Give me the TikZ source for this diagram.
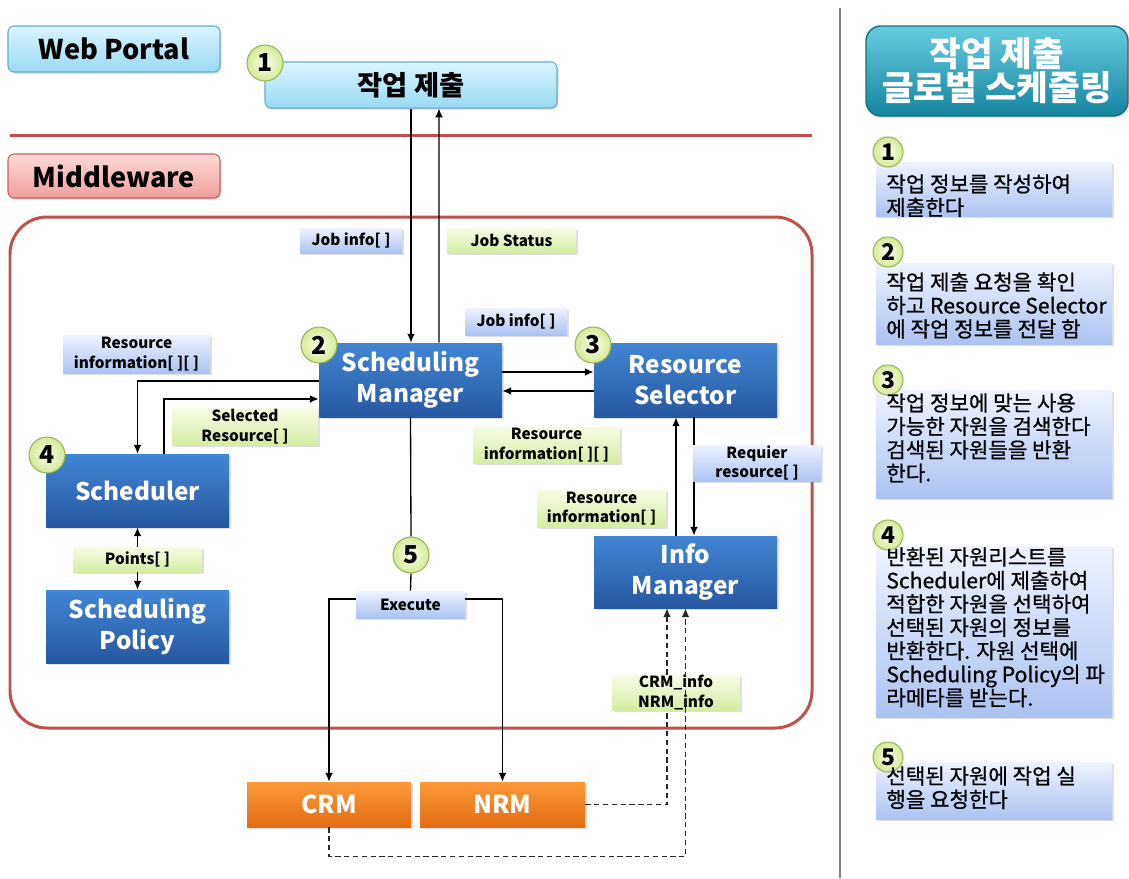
\documentclass[tikz,border=0pt]{standalone}
\usepackage{fontspec}
\setmainfont{Noto Sans CJK KR}
\newfontfamily\stepfont{Noto Sans CJK KR}[FakeBold=0.7]
\usetikzlibrary{arrows.meta,calc,shadows}
\newdimen\px
\px=0.567pt
% palette
\definecolor{blueT}{RGB}{66,134,212}
\definecolor{blueB}{RGB}{38,88,160}
\definecolor{oraT}{RGB}{250,154,56}
\definecolor{oraB}{RGB}{228,108,18}
\definecolor{lavT}{RGB}{238,243,254}
\definecolor{lavB}{RGB}{172,194,242}
\definecolor{grnT}{RGB}{247,252,228}
\definecolor{grnB}{RGB}{212,237,162}
\definecolor{cyanT}{RGB}{218,245,254}
\definecolor{cyanB}{RGB}{152,218,243}
\definecolor{cyanE}{RGB}{104,172,202}
\definecolor{pinkT}{RGB}{253,218,216}
\definecolor{pinkB}{RGB}{240,158,156}
\definecolor{pinkE}{RGB}{196,98,96}
\definecolor{redline}{RGB}{192,80,77}
\definecolor{tealT}{RGB}{104,204,224}
\definecolor{tealB}{RGB}{22,132,160}
\definecolor{tealE}{RGB}{20,108,132}
\definecolor{numIn}{RGB}{252,254,232}
\definecolor{numOut}{RGB}{212,234,152}
\definecolor{numE}{RGB}{150,182,88}
\begin{document}
\begin{tikzpicture}[x=0.567pt,y=-0.567pt,
  shadowed/.style={drop shadow={opacity=0.25,shadow xshift=0.9pt,shadow yshift=-1.1pt}},
  bluebox/.style={rectangle, minimum width=183*\px, minimum height=74*\px, inner sep=0pt,
    top color=blueT, bottom color=blueB, text=white, align=center,
    font=\fontsize{13.8}{17.6}\selectfont\bfseries, shadowed},
  orabox/.style={rectangle, minimum width=164*\px, minimum height=45*\px, inner sep=0pt,
    top color=oraT, bottom color=oraB, text=white,
    font=\fontsize{14}{16}\selectfont\bfseries, shadowed},
  lbl/.style={rectangle, inner sep=0pt, align=center,
    font=\fontsize{8.7}{11}\selectfont\bfseries, shadowed},
  lblue/.style={lbl, top color=lavT, bottom color=lavB},
  lgreen/.style={lbl, top color=grnT, bottom color=grnB},
  num/.style={circle, inner sep=0pt, minimum size=36*\px, inner color=numIn, outer color=numOut,
    draw=numE, line width=0.6pt, font=\fontsize{14}{14}\selectfont\bfseries},
  smallnum/.style={num, minimum size=30*\px, font=\fontsize{13}{13}\selectfont\bfseries},
  layerbox/.style={rectangle, rounded corners=3.5pt, inner sep=0pt, line width=0.6pt,
    font=\fontsize{15.4}{17}\selectfont\bfseries, shadowed},
  stepbox/.style={rectangle, inner sep=0pt, minimum width=236*\px, top color=lavT, bottom color=lavB, shadowed},
  steptext/.style={anchor=north west, inner sep=0pt, align=left,
    font=\stepfont\fontsize{12}{13.3}\selectfont},
  conn/.style={draw=black, line width=0.75pt},
  arr/.style={conn, -{Latex[length=5pt,width=4.4pt]}},
  dashedarr/.style={draw=black!85, line width=0.75pt, dash pattern=on 3pt off 2pt, -{Latex[length=5pt,width=4.4pt]}}
]
\fill[white] (0,0) rectangle (1129,878);
\useasboundingbox (0,0) rectangle (1129,878);

% layer separators and frames
\draw[redline, line width=1.7pt] (10,135) -- (812,135);
\draw[redline, line width=1.7pt, rounded corners=21pt] (10,217) rectangle (812,728);
\draw[black!50, line width=1.1pt] (840,8) -- (840,878);

% layer titles
\node[layerbox, draw=cyanE, top color=cyanT, bottom color=cyanB, minimum width=212*\px, minimum height=46*\px] (portal) at (114,49) {Web Portal};
\node[layerbox, draw=pinkE, top color=pinkT, bottom color=pinkB, minimum width=212*\px, minimum height=44*\px] (middle) at (114,176) {Middleware};

% web portal
\node[layerbox, draw=cyanE, top color=cyanT, bottom color=cyanB, minimum width=292*\px, minimum height=46*\px,
  font=\fontsize{15.5}{17}\selectfont\bfseries] (submit) at (411,85) {작업 제출};
\node[num] (c1) at (265,63) {1};

% middleware components
\node[bluebox] (sm) at (410.5,380) {Scheduling\\Manager};
\node[bluebox] (rs) at (685.5,380) {Resource\\Selector};
\node[bluebox, minimum height=73*\px] (sched) at (137.5,490.5) {Scheduler};
\node[bluebox, minimum height=73*\px] (policy) at (137.5,626.5) {Scheduling\\Policy};
\node[bluebox, minimum height=72*\px] (im) at (685.5,572) {Info\\Manager};
\node[num] (c2) at (319,345) {2};
\node[num] (c3) at (593,345) {3};
\node[num] (c4) at (47,455) {4};
\node[num] (c5) at (411,555) {5};

% resource managers
\node[orabox] (crm) at (329,804.5) {CRM};
\node[orabox, minimum width=165*\px] (nrm) at (502.5,804.5) {NRM};

% message flows
\draw[arr] (submit.south) -- (submit.south |- sm.north);
\draw[arr] ($(sm.north)+(28.5,0)$) -- ($(submit.south)+(28,0)$);
\draw[arr] ($(sm.east)+(0,-8)$) -- ($(rs.west)+(0,-8)$);
\draw[arr] ($(rs.west)+(0,11)$) -- ($(sm.east)+(0,11)$);
\draw[arr] ($(sm.west)+(0,1)$) -| (sched.north);
\draw[arr] ($(sched.north)+(26.5,0)$) |- ($(sm.west)+(0,19)$);
\draw[arr] ($(rs.south)+(8.5,0)$) -- ($(im.north)+(8.5,0)$);
\draw[arr] ($(im.north)+(-9.5,0)$) -- ($(rs.south)+(-9.5,0)$);
\draw[conn] (sm.south) -- (c5.north);
\draw[dashedarr] (nrm.east) -| ($(im.south)+(-18.5,0)$);

% data labels
\node[lblue, minimum width=102*\px, minimum height=25*\px] (ji1) at (351,240.5) {Job info[ ]};
\node[lgreen, minimum width=129*\px, minimum height=25*\px] (js) at (511.5,240.5) {Job Status};
\node[lblue, minimum width=102*\px, minimum height=27*\px] (ji2) at (516,321.5) {Job info[ ]};
\node[lblue, minimum width=147*\px, minimum height=38*\px] (ri1) at (136.5,354) {Resource\\information[ ][ ]};
\node[lgreen, minimum width=146*\px, minimum height=37*\px] (sel) at (245,426.5) {Selected\\Resource[ ]};
\node[lgreen, minimum width=147*\px, minimum height=36*\px] (ri2) at (546.5,445) {Resource\\information[ ][ ]};
\node[lblue, minimum width=128*\px, minimum height=36*\px] (req) at (757,463) {Requier\\resource[ ]};
\node[lgreen, minimum width=129*\px, minimum height=37*\px] (ri3) at (601.5,508.5) {Resource\\information[ ]};
\node[lgreen, minimum width=129*\px, minimum height=25*\px] (pts) at (137.5,559.5) {Points[ ]};
\node[lblue, minimum width=109*\px, minimum height=27*\px] (exe) at (410.5,604.5) {Execute};
\node[lgreen, minimum width=128*\px, minimum height=35*\px] (rmi) at (676,692.5) {CRM\_info\\NRM\_info};

\draw[arr] (pts.north) -- (sched.south);
\draw[arr] (pts.south) -- (policy.north);
\draw[conn] (c5.south) -- (exe.north);
\draw[arr] ($(exe.west)+(0,-5.5)$) -| (crm.north);
\draw[arr] ($(exe.east)+(0,-5.5)$) -| (nrm.north);
\draw[dashedarr] (crm.south) -- ++(0,29) -| (im.south);

% right panel
\node[rectangle, rounded corners=8.5pt, draw=tealE, line width=0.8pt, top color=tealT, bottom color=tealB,
  minimum width=262*\px, minimum height=90*\px, text=white, align=center,
  font=\fontsize{19.5}{18.3}\selectfont\bfseries, shadowed] (title) at (997,71) {작업 제출\\글로벌 스케줄링};

\node[stepbox, minimum height=54*\px] (s1) at (994,189) {};
\node[stepbox, minimum height=81*\px] (s2) at (994,303.5) {};
\node[stepbox, minimum height=108*\px] (s3) at (994,444) {};
\node[stepbox, minimum height=171*\px] (s4) at (994,631.5) {};
\node[stepbox, minimum height=57*\px] (s5) at (994,790.5) {};

\node[smallnum] (n1) at (888,152) {1};
\node[smallnum] (n2) at (888,252) {2};
\node[smallnum] (n3) at (888,380) {3};
\node[smallnum] (n4) at (888,535) {4};
\node[smallnum] (n5) at (888,757) {5};

\node[steptext] (t1) at (886,174) {작업 정보를 작성하여\\제출한다};
\node[steptext] (t2) at (886,272) {작업 제출 요청을 확인\\하고 Resource Selector\\에 작업 정보를 전달 함};
\node[steptext] (t3) at (886,393) {작업 정보에 맞는 사용\\가능한 자원을 검색한다\\검색된 자원들을 반환\\한다.};
\node[steptext] (t4) at (886,547) {반환된 자원리스트를\\Scheduler에 제출하여\\적합한 자원을 선택하여\\선택된 자원의 정보를\\반환한다. 자원 선택에\\Scheduling Policy의 파\\라메타를 받는다.};
\node[steptext] (t5) at (886,766) {선택된 자원에 작업 실\\행을 요청한다};
\end{tikzpicture}
\end{document}
